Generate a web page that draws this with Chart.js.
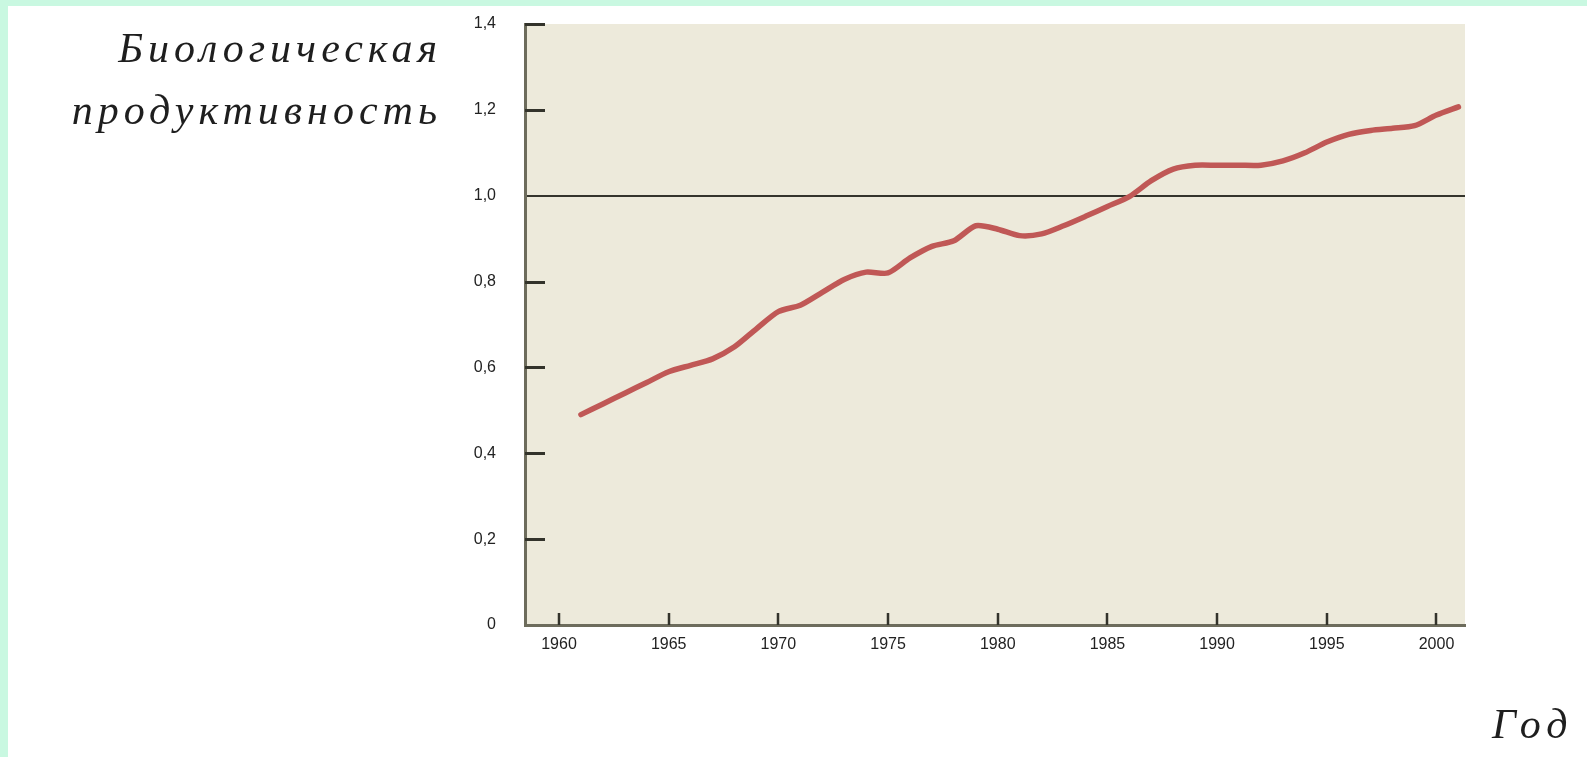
<!DOCTYPE html>
<html>
<head>
<meta charset="utf-8">
<script src="https://cdn.jsdelivr.net/npm/chart.js@4.4.1/dist/chart.umd.min.js"></script>
<style>
  html, body { margin: 0; padding: 0; background: #ffffff; }
  #wrap { position: relative; width: 1587px; height: 757px; overflow: hidden; background: #ffffff; }
  #frameTop { position: absolute; left: 0; top: 0; width: 1587px; height: 6px; background: #c9f8e1; }
  #frameLeft { position: absolute; left: 0; top: 0; width: 8px; height: 757px; background: #c9f8e1; }
  #chartBox { position: absolute; left: 0; top: 0; width: 1587px; height: 757px; }
  .ttl { position: absolute; font-family: "Liberation Serif", "DejaVu Serif", serif; font-style: italic;
         color: #1e1e1e; font-size: 42px; line-height: 42px; letter-spacing: 5px; white-space: nowrap; }
  #yt1 { left: 0; width: 442px; text-align: right; top: 27px; }
  #yt2 { left: 0; width: 442px; text-align: right; top: 89px; }
  #xt  { left: 1492px; top: 703px; letter-spacing: 6px; }
</style>
</head>
<body>
<div id="wrap">
  <div id="chartBox"><canvas id="c" width="1587" height="757"></canvas></div>
  <div id="frameTop"></div>
  <div id="frameLeft"></div>
  <div class="ttl" id="yt1">Биологическая</div>
  <div class="ttl" id="yt2">продуктивность</div>
  <div class="ttl" id="xt">Год</div>
</div>
<script>
// ---- data ----
const years = [1961,1962,1963,1964,1965,1966,1967,1968,1969,1970,
               1971,1972,1973,1974,1975,1976,1977,1978,1979,1980,
               1981,1982,1983,1984,1985,1986,1987,1988,1989,1990,
               1991,1992,1993,1994,1995,1996,1997,1998,1999,2000,2001];
const productivity = [0.490,0.515,0.540,0.565,0.590,0.605,0.620,0.648,0.690,0.730,
                      0.745,0.775,0.805,0.822,0.820,0.855,0.882,0.895,0.930,0.922,
                      0.907,0.911,0.930,0.952,0.975,0.998,1.035,1.062,1.071,1.071,
                      1.071,1.071,1.081,1.100,1.125,1.143,1.152,1.157,1.163,1.188,1.207];
const yTickValues = [0, 0.2, 0.4, 0.6, 0.8, 1.0, 1.2, 1.4];
const yTickLabels = ['0', '0,2', '0,4', '0,6', '0,8', '1,0', '1,2', '1,4'];
const xTickValues = [1960, 1965, 1970, 1975, 1980, 1985, 1990, 1995, 2000];
const xTickLabels = ['1960', '1965', '1970', '1975', '1980', '1985', '1990', '1995', '2000'];
const referenceLevel = 1.0;

// ---- layout (pixels) ----
const PLOT_LEFT = 525, PLOT_TOP = 24, PLOT_RIGHT = 1465, PLOT_BOTTOM = 625;
const W = 1587, H = 757;

const plotBg = {
  id: 'plotBg',
  beforeDraw(chart) {
    const {ctx, chartArea: a} = chart;
    ctx.save();
    ctx.fillStyle = '#edeadb';
    ctx.fillRect(a.left, a.top, a.right - a.left, a.bottom - a.top);
    ctx.restore();
  }
};

const innerTicks = {
  id: 'innerTicks',
  afterDraw(chart) {
    const {ctx, chartArea: a, scales: {x, y}} = chart;
    ctx.save();
    ctx.strokeStyle = '#33332b';
    ctx.lineWidth = 3;
    ctx.beginPath();
    yTickValues.forEach(v => {
      if (v === 0 || v === referenceLevel) return;
      const py = Math.round(y.getPixelForValue(v)) + 0.5;
      ctx.moveTo(a.left, py); ctx.lineTo(a.left + 20, py);
    });
    ctx.stroke();
    ctx.lineWidth = 2.5;
    ctx.beginPath();
    xTickValues.forEach(v => {
      const px = Math.round(x.getPixelForValue(v));
      ctx.moveTo(px, a.bottom); ctx.lineTo(px, a.bottom - 12);
    });
    ctx.stroke();
    ctx.restore();
  }
};

new Chart(document.getElementById('c'), {
  type: 'line',
  data: {
    datasets: [{
      data: years.map((yr, i) => ({x: yr, y: productivity[i]})),
      borderColor: '#c05856',
      borderWidth: 5.5,
      pointRadius: 0,
      tension: 0.25,
      borderCapStyle: 'round',
      borderJoinStyle: 'round',
      fill: false
    }]
  },
  options: {
    responsive: false,
    animation: false,
    devicePixelRatio: 1,
    layout: { padding: { left: 0, top: PLOT_TOP, right: W - PLOT_RIGHT, bottom: 0 } },
    plugins: { legend: { display: false }, tooltip: { enabled: false }, title: { display: false } },
    scales: {
      x: {
        type: 'linear',
        min: 1958.45,
        max: 2001.3,
        afterBuildTicks(scale) { scale.ticks = xTickValues.map(v => ({value: v})); },
        afterFit(scale) { scale.height = H - PLOT_BOTTOM; },
        ticks: {
          autoSkip: false,
          maxRotation: 0,
          padding: 10,
          color: '#222222',
          font: { family: 'Liberation Sans, Arial, sans-serif', size: 16 },
          callback: (v) => xTickLabels[xTickValues.indexOf(v)] ?? ''
        },
        grid: { display: true, drawTicks: false, drawOnChartArea: false, color: 'rgba(0,0,0,0)' },
        border: { display: true, color: '#6d6c5c', width: 3 }
      },
      y: {
        type: 'linear',
        min: 0,
        max: 1.4,
        afterBuildTicks(scale) { scale.ticks = yTickValues.map(v => ({value: v})); },
        afterFit(scale) { scale.width = PLOT_LEFT; scale.paddingTop = 0; scale.paddingBottom = 0; },
        ticks: {
          autoSkip: false,
          padding: 29,
          color: '#222222',
          font: { family: 'Liberation Sans, Arial, sans-serif', size: 16 },
          callback: (v) => {
            const i = yTickValues.findIndex(t => Math.abs(t - v) < 1e-9);
            return i >= 0 ? yTickLabels[i] : '';
          }
        },
        grid: {
          display: true,
          drawTicks: false,
          lineWidth: 2,
          color: (ctx) => (ctx.tick && Math.abs(ctx.tick.value - referenceLevel) < 1e-9) ? '#34342c' : 'rgba(0,0,0,0)'
        },
        border: { display: true, color: '#6d6c5c', width: 3 }
      }
    }
  },
  plugins: [plotBg, innerTicks]
});
</script>
</body>
</html>
